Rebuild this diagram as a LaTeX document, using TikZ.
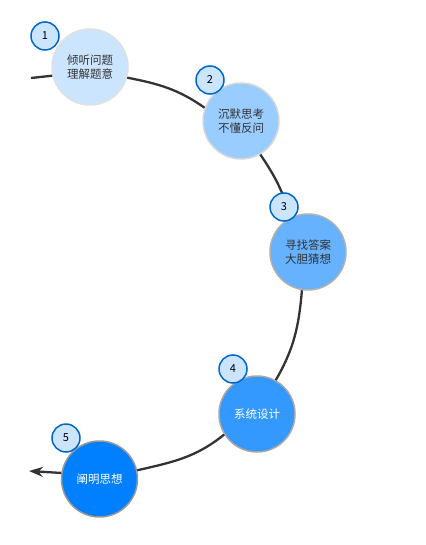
\documentclass[tikz,border=0pt]{standalone}
\usepackage{fontspec}
\newfontfamily\cjk{Noto Sans CJK SC}
\usetikzlibrary{arrows.meta}
\definecolor{fillA}{HTML}{CCE5FF}
\definecolor{fillB}{HTML}{99CCFF}
\definecolor{fillC}{HTML}{66B2FF}
\definecolor{fillD}{HTML}{3399FF}
\definecolor{fillE}{HTML}{007FFF}
\definecolor{badgeline}{HTML}{0066CC}
\definecolor{textdark}{HTML}{333333}
\tikzset{
  stage/.style={circle, minimum size=76pt, inner sep=0pt, line width=1.5pt,
    align=center, font=\cjk\fontsize{11.5}{14}\selectfont, text=textdark},
  badge/.style={circle, minimum size=28pt, inner sep=0pt, line width=1.5pt,
    draw=badgeline, fill=fillA, text=black, font=\cjk\fontsize{11}{12}\selectfont},
  flow/.style={draw=textdark, line width=2.3pt}
}
\begin{document}
\begin{tikzpicture}[x=1pt,y=1pt]
  \useasboundingbox (0,0) rectangle (425,-545);
  \coordinate (start) at (31,-78);
  \coordinate (finish) at (29,-471);
  \node[stage, fill=fillA, draw={rgb,255:red,224;green,224;blue,224}] (c1) at (90,-67) {倾听问题\\理解题意};
  \node[stage, fill=fillB, draw={rgb,255:red,216;green,216;blue,216}] (c2) at (241,-121) {沉默思考\\不懂反问};
  \node[stage, fill=fillC, draw={rgb,255:red,176;green,176;blue,176}] (c3) at (308,-252) {寻找答案\\大胆猜想};
  \node[stage, fill=fillD, draw={rgb,255:red,168;green,168;blue,168}, text=white] (c4) at (257,-414) {系统设计};
  \node[stage, fill=fillE, draw={rgb,255:red,153;green,153;blue,153}, text=white] (c5) at (99.5,-479) {阐明思想};

  \draw[flow] (start) -- (c1.193);
  \draw[flow] (c1.-16) to[out=-11, in=145] (c2.160);
  \draw[flow] (c2.-60) to[out=-56, in=106] (c3.117);
  \draw[flow] (c3.-99) to[out=-95, in=60] (c4.61);
  \draw[flow] (c4.-148) to[out=-141, in=13] (c5.13);
  \draw[flow, -{Stealth[length=14pt,width=10pt]}] (c5.171) -- (finish);

  \node[badge] (b1) at (45,-36) {1};
  \node[badge] (b2) at (210,-80) {2};
  \node[badge] (b3) at (284,-207) {3};
  \node[badge] (b4) at (233,-369) {4};
  \node[badge] (b5) at (66,-438) {5};
\end{tikzpicture}
\end{document}
